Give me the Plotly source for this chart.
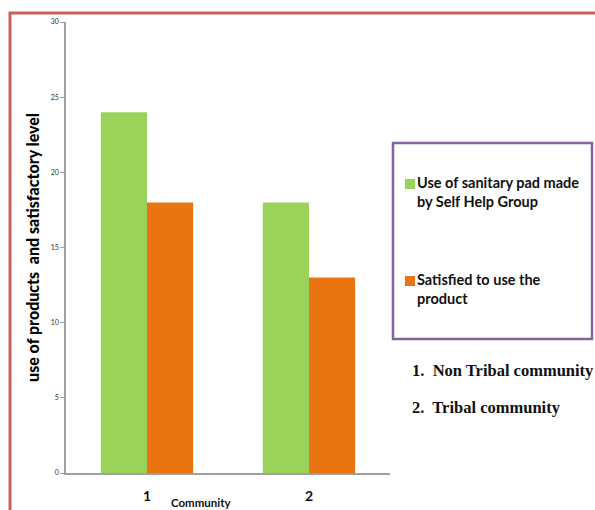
import plotly.graph_objects as go

communities = ["1", "2"]
use_of_pad = [24, 18]
satisfied = [18, 13]
series_names = ["Use of sanitary pad made<br>by Self Help Group", "Satisfied to use the<br>product"]
y_ticks = [0, 5, 10, 15, 20, 25, 30]

GREEN = "#9BD25A"
ORANGE = "#E87511"
FONT = "Lato, 'Open Sans', sans-serif"

# plot area in pixels: x 66..390, y 22..473
PX0, PX1, PY0, PY1 = 66, 390, 22, 473


def px(x):
    return (x - PX0) / (PX1 - PX0)


def py(y):
    return (PY1 - y) / (PY1 - PY0)


fig = go.Figure()
fig.add_trace(go.Bar(x=communities, y=use_of_pad, name=series_names[0],
                     marker=dict(color=GREEN, line=dict(width=0))))
fig.add_trace(go.Bar(x=communities, y=satisfied, name=series_names[1],
                     marker=dict(color=ORANGE, line=dict(width=0))))

fig.update_layout(
    width=595, height=510,
    margin=dict(l=PX0, r=595 - PX1, t=PY0, b=510 - PY1),
    paper_bgcolor="white", plot_bgcolor="white",
    barmode="group", bargap=0.43, bargroupgap=0,
    font=dict(family=FONT, color="#111"),
    showlegend=False,
    xaxis=dict(showline=True, linecolor="#A0A0A0", linewidth=1.5,
               ticks="", showgrid=False, automargin=False,
               tickfont=dict(size=14, family=FONT, color="#111", weight="bold"),
               ticklabelstandoff=9),
    yaxis=dict(range=[0, 30], tickvals=y_ticks, showline=True, automargin=False,
               linecolor="#A0A0A0", linewidth=1.5, ticks="outside",
               ticklen=4, tickcolor="#A0A0A0", showgrid=False, zeroline=False,
               tickfont=dict(size=7, color="#333"),
               title=dict(text="use of products  and satisfactory level",
                          font=dict(size=16, family=FONT, color="#000", weight=900),
                          standoff=7)),
)

# legend frame
fig.add_shape(type="rect", xref="paper", yref="paper",
              x0=px(393), x1=px(592), y0=py(339), y1=py(143),
              line=dict(color="#8064A2", width=2.5), fillcolor="rgba(0,0,0,0)")

# legend entries: colour key plus two-line label
for name, color, y_top in [(series_names[0], GREEN, 176), (series_names[1], ORANGE, 273)]:
    fig.add_shape(type="rect", xref="paper", yref="paper",
                  x0=px(405), x1=px(415), y0=py(y_top + 13), y1=py(y_top + 3),
                  line=dict(width=0), fillcolor=color)
    fig.add_annotation(text=f"<b>{name}</b>", xref="paper", yref="paper",
                       x=px(415), y=py(y_top - 4), xanchor="left", yanchor="top",
                       align="left", showarrow=False,
                       font=dict(size=14.5, family=FONT, color="#111"))

# outer red frame (left and top edges)
fig.add_shape(type="path", xref="paper", yref="paper",
              path=f"M {px(10)},{py(520)} L {px(10)},{py(13)} L {px(600)},{py(13)}",
              line=dict(color="#C9605C", width=3))

fig.add_annotation(text="<b>Community</b>", xref="paper", yref="paper",
                   x=px(201), y=py(503), yanchor="middle", showarrow=False,
                   font=dict(size=11.5, family=FONT, color="#111"))

for label, y in [("1.  Non Tribal community", 370), ("2.  Tribal community", 407)]:
    fig.add_annotation(text=f"<b>{label}</b>", xref="paper", yref="paper",
                       x=px(410), y=py(y), xanchor="left", yanchor="middle",
                       showarrow=False,
                       font=dict(size=16.5, family="'Liberation Serif', serif",
                                 color="#111"))

fig.write_html("out.html")
